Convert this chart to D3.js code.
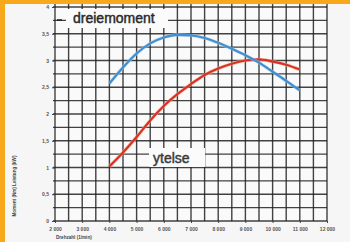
<!DOCTYPE html>
<html>
<head>
<meta charset="utf-8">
<script src="https://cdn.jsdelivr.net/npm/d3@7"></script>
<style>
  body { margin: 0; background: #f6f6f6; }
  svg { display: block; }
</style>
</head>
<body>
<div id="chart"></div>
<script>
// rpm values and curves
const rpm = [4000, 4500, 5000, 5500, 6000, 6500, 7000, 7500, 8000, 8500, 9000, 9500, 10000, 10500, 11000];
const dreiemoment = [2.57, 2.87, 3.13, 3.32, 3.43, 3.48, 3.47, 3.42, 3.33, 3.22, 3.10, 2.96, 2.79, 2.62, 2.44];
const ytelse = [1.02, 1.28, 1.57, 1.88, 2.15, 2.37, 2.56, 2.73, 2.85, 2.94, 3.00, 3.02, 2.98, 2.92, 2.83];
const xTicks = [2000, 3000, 4000, 5000, 6000, 7000, 8000, 9000, 10000, 11000, 12000];
const xTickLabels = ['2 000', '3 000', '4 000', '5 000', '6 000', '7 000', '8 000', '9 000', '10 000', '11 000', '12 000'];
const yTicks = [0, 0.5, 1, 1.5, 2, 2.5, 3, 3.5, 4];
const yTickLabels = ['0', '0,5', '1', '1,5', '2', '2,5', '3', '3,5', '4'];

const W = 350, H = 242;
const x = d3.scaleLinear().domain([2000, 12000]).range([55, 327]);
const y = d3.scaleLinear().domain([0, 4]).range([221, 7]);

const svg = d3.select('#chart').append('svg')
  .attr('width', W).attr('height', H);

svg.append('rect').attr('width', W).attr('height', H).attr('fill', '#f6f6f6');

// grid every 500 rpm / 0.25
const g = svg.append('g');
g.append('rect')
  .attr('x', x(2000)).attr('y', 5)
  .attr('width', x(12000) - x(2000)).attr('height', y(0) - 5)
  .attr('fill', '#fafafa');
g.selectAll('.vg').data(d3.range(2000, 12001, 500)).enter().append('line')
  .attr('x1', d => x(d)).attr('x2', d => x(d))
  .attr('y1', 4).attr('y2', y(0))
  .attr('stroke', '#222').attr('stroke-width', 1.4).attr('opacity', 0.85);
g.selectAll('.hg').data(d3.range(0, 4.01, 0.25)).enter().append('line')
  .attr('x1', x(2000) - 2).attr('x2', x(12000))
  .attr('y1', d => y(d)).attr('y2', d => y(d))
  .attr('stroke', '#222').attr('stroke-width', 1.4).attr('opacity', 0.85);

// axes (ticks only, labels tiny like the scan)
const xAxis = svg.append('g')
  .attr('transform', `translate(0,${y(0)})`)
  .call(d3.axisBottom(x).tickValues(xTicks).tickSize(2).tickFormat((d, i) => xTickLabels[i]));
xAxis.select('.domain').remove();
xAxis.selectAll('text').attr('font-family', 'Liberation Sans, Arial, sans-serif')
  .attr('font-size', 5).attr('font-weight', 'bold').attr('fill', '#555').attr('dy', '0.9em');
xAxis.selectAll('line').attr('stroke', '#444');

const yAxis = svg.append('g')
  .attr('transform', `translate(${x(2000)},0)`)
  .call(d3.axisLeft(y).tickValues(yTicks).tickSize(3).tickFormat((d, i) => yTickLabels[i]));
yAxis.select('.domain').remove();
yAxis.selectAll('text').attr('font-family', 'Liberation Sans, Arial, sans-serif')
  .attr('font-size', 5).attr('font-weight', 'bold').attr('fill', '#555').attr('x', -6);
yAxis.selectAll('line').attr('stroke', '#444');

// axis titles
svg.append('text')
  .attr('transform', `translate(16,186) rotate(-90)`)
  .attr('text-anchor', 'middle')
  .attr('font-family', 'Liberation Sans, Arial, sans-serif')
  .attr('font-size', 4.6).attr('font-weight', 'bold').attr('fill', '#444')
  .text('Moment (Nm) Leistung (kW)');
svg.append('text')
  .attr('x', 56).attr('y', 239)
  .attr('font-family', 'Liberation Sans, Arial, sans-serif')
  .attr('font-size', 4.6).attr('font-weight', 'bold').attr('fill', '#444')
  .text('Drehzahl (1/min)');

// curves
const line = d3.line().x((d, i) => x(rpm[i])).y(d => y(d)).curve(d3.curveMonotoneX);
svg.append('path').datum(ytelse)
  .attr('d', line).attr('fill', 'none')
  .attr('stroke', '#f2b27a').attr('stroke-width', 3.6).attr('opacity', 0.6);
svg.append('path').datum(ytelse)
  .attr('d', line).attr('fill', 'none')
  .attr('stroke', '#d8302a').attr('stroke-width', 2.2);
svg.append('path').datum(dreiemoment)
  .attr('d', line).attr('fill', 'none')
  .attr('stroke', '#a9c9e6').attr('stroke-width', 3.4).attr('opacity', 0.6);
svg.append('path').datum(dreiemoment)
  .attr('d', line).attr('fill', 'none')
  .attr('stroke', '#3f8fd2').attr('stroke-width', 2.2);

// labels with white boxes
svg.append('rect').attr('x', 66).attr('y', 9).attr('width', 102).attr('height', 19).attr('fill', '#fbfbfb');
svg.append('line').attr('x1', 57).attr('x2', 62).attr('y1', 20).attr('y2', 20)
  .attr('stroke', '#222').attr('stroke-width', 1.5);
svg.append('text')
  .attr('x', 73).attr('y', 23)
  .attr('font-family', 'Liberation Sans, Arial, sans-serif')
  .attr('font-size', 14).attr('fill', '#2a2a2a')
  .attr('stroke', '#2a2a2a').attr('stroke-width', 0.45)
  .text('dreiemoment');

svg.append('rect').attr('x', 149).attr('y', 148).attr('width', 56).attr('height', 19).attr('fill', '#fbfbfb');
svg.append('text')
  .attr('x', 153).attr('y', 163)
  .attr('font-family', 'Liberation Sans, Arial, sans-serif')
  .attr('font-size', 14).attr('fill', '#3a3a3a')
  .attr('stroke', '#3a3a3a').attr('stroke-width', 0.45)
  .text('ytelse');

// orange scan border
svg.append('rect').attr('x', 0).attr('y', 0).attr('width', W).attr('height', 4).attr('fill', '#f7a81b');
svg.append('rect').attr('x', 0).attr('y', 0).attr('width', 5).attr('height', H).attr('fill', '#f7a81b');
</script>
</body>
</html>
